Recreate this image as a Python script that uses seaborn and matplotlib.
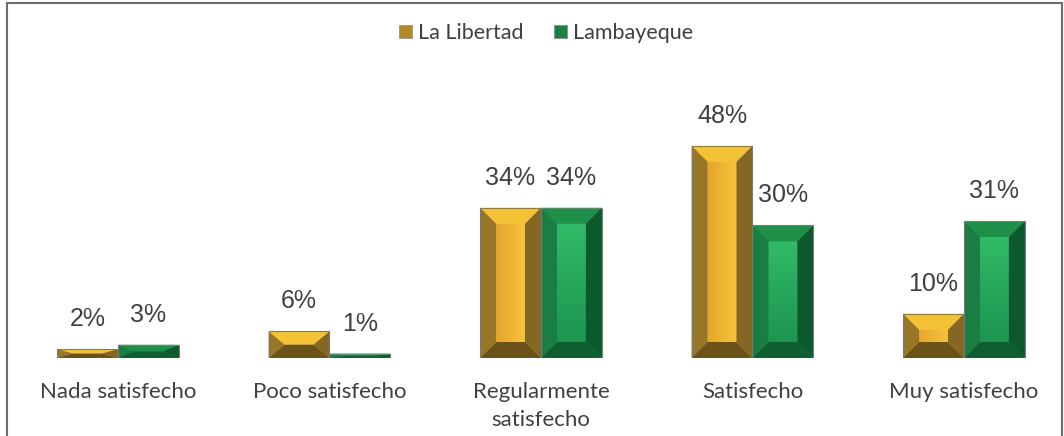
import matplotlib
matplotlib.use("Agg")
import matplotlib.pyplot as plt
from matplotlib.colors import LinearSegmentedColormap
from matplotlib.patches import Polygon, Rectangle, Patch
import numpy as np
import pandas as pd
import seaborn as sns

categorias = ["Nada satisfecho", "Poco satisfecho", "Regularmente\nsatisfecho", "Satisfecho", "Muy satisfecho"]
series = ["La Libertad", "Lambayeque"]
la_libertad = [2, 6, 34, 48, 10]
lambayeque = [3, 1, 34, 30, 31]

# colores del bisel: centro, arriba, izquierda, derecha, abajo
bevel_colors = {
    "La Libertad": ["#F0B632", "#F3C235", "#977628", "#836722", "#6A5219"],
    "Lambayeque": ["#27A85C", "#1F8F4A", "#1A7E44", "#0C5A2C", "#0E5E30"],
}
# degradado de la cara central (inicio, fin, dirección)
center_grad = {
    "La Libertad": ("#E6A52C", "#F6C43C", "h"),
    "Lambayeque": ("#1D9550", "#31BA68", "v"),
}
legend_colors = {"La Libertad": "#B08A28", "Lambayeque": "#1A7F45"}
TEXT = "#404040"

df = pd.DataFrame({
    "categoria": categorias * 2,
    "valor": la_libertad + lambayeque,
    "region": [series[0]] * 5 + [series[1]] * 5,
})

W, H = 1064, 436
fig = plt.figure(figsize=(W / 100, H / 100), dpi=100)
sns.set_style("white")
ax = fig.add_axes([0, 78 / H, 1, 243 / H])

sns.barplot(data=df, x="categoria", y="valor", hue="region", hue_order=series,
            palette=[bevel_colors[s][0] for s in series], width=0.576,
            saturation=1, ax=ax, legend=False, edgecolor="none")

XLIM = (-0.558, 4.473)
YLIM = (0, 55)
ax.set_xlim(*XLIM)
ax.set_ylim(*YLIM)
sns.despine(ax=ax, left=True, bottom=True)
ax.set_yticks([])
ax.set_xlabel("")
ax.set_ylabel("")
ax.tick_params(axis="x", length=0, pad=17)
for lbl in ax.get_xticklabels():
    lbl.set_fontfamily("Lato")
    lbl.set_fontsize(16)
    lbl.set_color(TEXT)
    lbl.set_linespacing(1.55)

# tamaño de un píxel en unidades de datos
dx = (XLIM[1] - XLIM[0]) / W
dy = (YLIM[1] - YLIM[0]) / 243

for container, name in zip(ax.containers, series):
    c_center, c_top, c_left, c_right, c_bot = bevel_colors[name]
    g0, g1, gdir = center_grad[name]
    cmap = LinearSegmentedColormap.from_list(name, [g0, g1])
    grad = np.linspace(0, 1, 64)
    grad = grad[None, :] if gdir == "h" else grad[::-1][:, None]
    for bar in container:
        x0, y0 = bar.get_x(), bar.get_y()
        w, h = bar.get_width(), bar.get_height()
        x1, y1 = x0 + w, y0 + h
        bh = min(16, (w / dx) / 2) * dx
        bv = min(16, (h / dy) / 2) * dy
        ix0, ix1, iy0, iy1 = x0 + bh, x1 - bh, y0 + bv, y1 - bv
        if iy1 > iy0:
            ax.imshow(grad, cmap=cmap, extent=(ix0, ix1, iy0, iy1), aspect="auto",
                      zorder=2.5, interpolation="bilinear")
        faces = [
            ([(x0, y1), (x1, y1), (ix1, iy1), (ix0, iy1)], c_top),
            ([(x0, y0), (x0, y1), (ix0, iy1), (ix0, iy0)], c_left),
            ([(x1, y0), (x1, y1), (ix1, iy1), (ix1, iy0)], c_right),
            ([(x0, y0), (x1, y0), (ix1, iy0), (ix0, iy0)], c_bot),
        ]
        for pts, col in faces:
            ax.add_patch(Polygon(pts, closed=True, facecolor=col, edgecolor="none", zorder=3))
        ax.add_patch(Rectangle((x0, y0), w, h, fill=False, edgecolor="#7a7a7a", lw=0.8, zorder=4))
    ax.bar_label(container, labels=[f"{v:.0f}%" for v in container.datavalues],
                 padding=13, fontsize=18, color=TEXT, family="Liberation Sans")

ax.set_xlim(*XLIM)
ax.set_ylim(*YLIM)

handles = [Patch(facecolor=legend_colors[s], edgecolor="#8a8a8a", lw=0.5, label=s) for s in series]
fig.legend(handles=handles, loc="center", bbox_to_anchor=(546 / W, 1 - 33 / H), ncol=2,
           frameon=False, prop={"family": "Lato", "size": 15.5}, labelcolor=TEXT,
           handlelength=0.6, handleheight=0.6, handletextpad=0.3, columnspacing=1.4)

fig.add_artist(Rectangle((7 / W, -0.05), (1062 - 7) / W, 1.05 - 3 / H,
                         transform=fig.transFigure, fill=False, edgecolor="#6d6d6d", lw=1.5))

fig.savefig("out.png", dpi=100)
